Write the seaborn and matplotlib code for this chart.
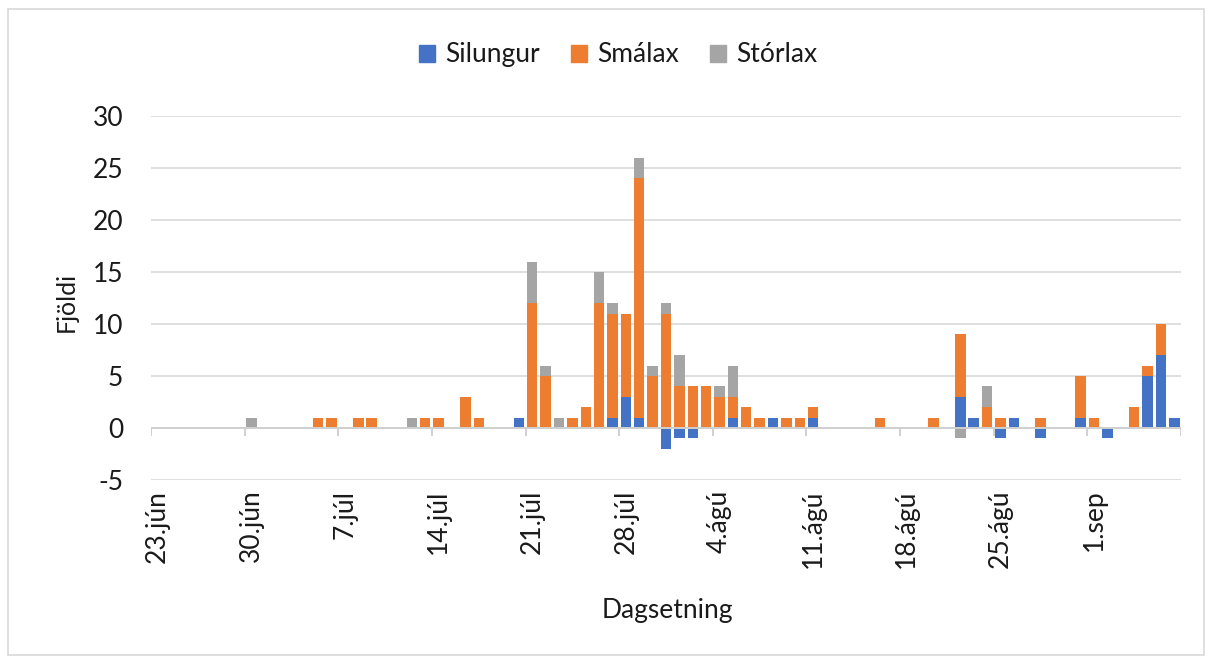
import numpy as np
import pandas as pd
import matplotlib
matplotlib.use("Agg")
import matplotlib.pyplot as plt
import seaborn as sns
from matplotlib.patches import Patch, Rectangle

# ----------------------------------------------------
# Gögn: daglegur afli 23.jún - 7.sep (77 dagar, ein vika í línu)
# ----------------------------------------------------
manudir = {6: "jún", 7: "júl", 8: "ágú", 9: "sep"}
dagsetningar = pd.date_range("2021-06-23", periods=77, freq="D")
dagar = [f"{d.day}.{manudir[d.month]}" for d in dagsetningar]

silungur = [
    0, 0, 0, 0, 0, 0, 0,
    0, 0, 0, 0, 0, 0, 0,
    0, 0, 0, 0, 0, 0, 0,
    0, 0, 0, 0, 0, 0, 1,
    0, 0, 0, 0, 0, 0, 1,
    3, 1, 0, -2, -1, -1, 0,
    0, 1, 0, 0, 1, 0, 0,
    1, 0, 0, 0, 0, 0, 0,
    0, 0, 0, 0, 3, 1, 0,
    -1, 1, 0, -1, 0, 0, 1,
    0, -1, 0, 0, 5, 7, 1,
]
smalax = [
    0, 0, 0, 0, 0, 0, 0,
    0, 0, 0, 0, 0, 1, 1,
    0, 1, 1, 0, 0, 0, 1,
    1, 0, 3, 1, 0, 0, 0,
    12, 5, 0, 1, 2, 12, 10,
    8, 23, 5, 11, 4, 4, 4,
    3, 2, 2, 1, 0, 1, 1,
    1, 0, 0, 0, 0, 1, 0,
    0, 0, 1, 0, 6, 0, 2,
    1, 0, 0, 1, 0, 0, 4,
    1, 0, 0, 2, 1, 3, 0,
]
storlax = [
    0, 0, 0, 0, 0, 0, 0,
    1, 0, 0, 0, 0, 0, 0,
    0, 0, 0, 0, 0, 1, 0,
    0, 0, 0, 0, 0, 0, 0,
    4, 1, 1, 0, 0, 3, 1,
    0, 2, 1, 1, 3, 0, 0,
    1, 3, 0, 0, 0, 0, 0,
    0, 0, 0, 0, 0, 0, 0,
    0, 0, 0, 0, -1, 0, 2,
    0, 0, 0, 0, 0, 0, 0,
    0, 0, 0, 0, 0, 0, 0,
]

flokkar = ["Silungur", "Smálax", "Stórlax"]
litir = {"Silungur": "#4472C4", "Smálax": "#ED7D31", "Stórlax": "#A5A5A5"}
merkimidar = ["23.jún", "30.jún", "7.júl", "14.júl", "21.júl", "28.júl",
              "4.ágú", "11.ágú", "18.ágú", "25.ágú", "1.sep"]

df = pd.DataFrame({"Dagsetning": dagar, "Silungur": silungur,
                   "Smálax": smalax, "Stórlax": storlax})

# staflað eins og í Excel: jákvæð gildi upp, neikvæð niður
pos = np.zeros(len(df))
neg = np.zeros(len(df))
botnar = {}
for f in flokkar:
    v = df[f].to_numpy(dtype=float)
    botnar[f] = np.where(v >= 0, pos, neg)
    pos = pos + np.where(v > 0, v, 0)
    neg = neg + np.where(v < 0, v, 0)

# ----------------------------------------------------
# Teikning
# ----------------------------------------------------
sns.set_theme(style="white")
plt.rcParams["font.family"] = ["Lato", "DejaVu Sans"]
plt.rcParams["axes.unicode_minus"] = False
texti = "#1a1a1a"
grat = "#d9d9d9"
fs = 19

fig = plt.figure(figsize=(12.12, 6.62), dpi=100)
ax = fig.add_axes([151 / 1212, 1 - 480 / 662, 1030 / 1212, 364 / 662])

for f in flokkar:
    sns.barplot(data=df, x="Dagsetning", y=f, order=dagar, color=litir[f],
                saturation=1, errorbar=None, width=0.78, linewidth=0,
                bottom=botnar[f], ax=ax)

ax.set_xlim(-0.5, len(dagar) - 0.5)
ax.set_ylim(-5, 30)
ax.set_yticks(range(-5, 31, 5))
ax.yaxis.grid(True, color=grat, lw=1.2)
ax.set_axisbelow(True)
for s in ax.spines.values():
    s.set_visible(False)

# lárétti ásinn liggur við 0 með vikumerkjum
ax.axhline(0, color="#d0d0d0", lw=1.4, zorder=3)
ax.vlines(np.arange(-0.5, len(dagar), 7), -0.75, 0, color="#d0d0d0", lw=1.4, zorder=3)

ax.set_xticks(range(0, len(dagar), 7))
ax.set_xticklabels(merkimidar, rotation=90, va="top", ha="center")
ax.tick_params(axis="x", length=0, pad=7, labelsize=fs, labelcolor=texti)
ax.tick_params(axis="y", length=0, pad=20, labelsize=fs, labelcolor=texti)

ax.set_xlabel("Dagsetning", fontsize=fs, color=texti)
ax.xaxis.set_label_coords(0.501, -0.325)
ax.set_ylabel("Fjöldi", fontsize=18, color=texti)
ax.yaxis.set_label_coords(-0.071, 0.49)

handles = [Patch(color=litir[f]) for f in flokkar]
fig.legend(handles, flokkar, loc="center", bbox_to_anchor=(0.510, 0.917), ncol=3,
           frameon=False, fontsize=fs, handlelength=0.62, handleheight=0.62,
           handletextpad=0.4, columnspacing=1.15, labelcolor=texti)

fig.add_artist(Rectangle((7.5 / 1212, 7 / 662), (1204 - 7.5) / 1212, (655 - 9) / 662,
                         transform=fig.transFigure, fill=False, edgecolor=grat, lw=1.2))

fig.savefig("out.png", dpi=100)
